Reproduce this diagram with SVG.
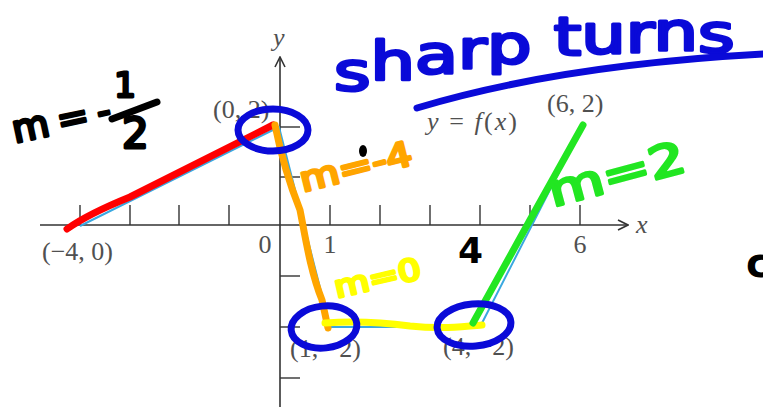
<svg xmlns="http://www.w3.org/2000/svg" width="763" height="409" viewBox="0 0 763 409">
<style>
.axis{stroke:#333;stroke-width:1.6;fill:none}
.tick{stroke:#333;stroke-width:1.4}
.lbl{font-family:"Liberation Serif","Times New Roman",serif;font-size:26px;fill:#505050}
.it{font-style:italic}
.fn{stroke:#3aa8e0;stroke-width:2;fill:none;stroke-linejoin:round}
.mk{fill:none;stroke-linecap:round;stroke-linejoin:round;stroke-width:7}
.hw{font-family:"DejaVu Sans","Liberation Sans",sans-serif;stroke-width:3;stroke-linejoin:round;stroke-linecap:round}
</style>
<defs>
<marker id="ah" viewBox="0 0 12 12" refX="11" refY="6" markerWidth="12" markerHeight="12" markerUnits="userSpaceOnUse" orient="auto">
<path d="M1,1 L11,6 L1,11" fill="none" stroke="#333" stroke-width="1.6"/>
</marker>
</defs>
<rect width="763" height="409" fill="#fff"/>

<g id="axes">
<line class="axis" x1="40" y1="225" x2="628" y2="225" marker-end="url(#ah)"/>
<line class="axis" x1="280" y1="407" x2="280" y2="57" marker-end="url(#ah)"/>
<g class="tick">
<line x1="80" y1="205" x2="80" y2="225"/><line x1="130" y1="205" x2="130" y2="225"/>
<line x1="179" y1="205" x2="179" y2="225"/><line x1="229" y1="205" x2="229" y2="225"/>
<line x1="330" y1="205" x2="330" y2="225"/><line x1="380" y1="205" x2="380" y2="225"/>
<line x1="430" y1="205" x2="430" y2="225"/><line x1="480" y1="205" x2="480" y2="225"/>
<line x1="530" y1="205" x2="530" y2="225"/><line x1="580" y1="205" x2="580" y2="225"/>
<line x1="280" y1="127" x2="300" y2="127"/><line x1="280" y1="177" x2="300" y2="177"/>
<line x1="280" y1="276" x2="300" y2="276"/><line x1="280" y1="327" x2="300" y2="327"/>
<line x1="280" y1="378" x2="300" y2="378"/>
</g>
<text class="lbl it" x="273" y="46">y</text>
<text class="lbl it" x="636" y="233">x</text>
<text class="lbl" x="265" y="253" text-anchor="middle">0</text>
<text class="lbl" x="330" y="253" text-anchor="middle">1</text>
<text class="lbl" x="580" y="253" text-anchor="middle">6</text>
</g>

<g id="function">
<polyline class="fn" points="80,226 279,127 330,327 480,327 583,125"/>
<text class="lbl" x="42" y="260">(−4, 0)</text>
<text class="lbl" x="213" y="118">(0, 2)</text>
<text class="lbl" x="547" y="112">(6, 2)</text>
<text class="lbl" x="290" y="357">(1, −2)</text>
<text class="lbl" x="443" y="355">(4, −2)</text>
<text class="lbl" x="427" y="130" textLength="90"><tspan class="it">y</tspan> = <tspan class="it">f</tspan>(<tspan class="it">x</tspan>)</text>
</g>

<g id="segments">
<path class="mk" stroke="#ff0000" d="M67,229 Q88,214 130,197 L273,125"/>
<path class="mk" stroke="#ffa500" stroke-width="6" d="M275,125 C280,150 290,185 300,210 C305,235 310,270 322,300 L328,328"/>
<path class="mk" stroke="#ffff00" stroke-width="6" d="M325,323 C350,321 380,322 410,326 C440,329 460,327 482,325"/>
<path class="mk" stroke="#22e622" stroke-width="6" d="M473,323 L530,220 L583,125"/>
</g>

<g id="corners">
<ellipse class="mk" stroke="#0a0ad8" stroke-width="6" cx="273" cy="130" rx="35" ry="21"/>
<ellipse class="mk" stroke="#0a0ad8" stroke-width="6" cx="324" cy="327" rx="33" ry="21" transform="rotate(-6 324 327)"/>
<ellipse class="mk" stroke="#0a0ad8" stroke-width="6" cx="474" cy="325" rx="37" ry="21" transform="rotate(-5 474 325)"/>
</g>

<g id="title">
<text class="hw" font-size="54" fill="#0a0ad8" stroke="#0a0ad8" stroke-width="2" transform="translate(334 90) scale(1.3 1)" dy="0 -10 -7 -5 -5 0 -8 -2 -1 -2 2">sharp turns</text>
<path class="mk" stroke="#0a0ad8" stroke-width="6" d="M417,108 Q560,65 765,54"/>
</g>

<g id="slopes">
<text class="hw" x="15" y="143" font-size="38" fill="#000" stroke="#000" textLength="100" transform="rotate(-12 15 143)">m=-</text>
<text class="hw" x="125" y="97" font-size="34" fill="#000" stroke="#000" text-anchor="middle">1</text>
<line class="mk" stroke="#000" stroke-width="6" x1="112" y1="119" x2="157" y2="102"/>
<text class="hw" x="122" y="148" font-size="42" fill="#000" stroke="#000" textLength="50">2</text>
<ellipse cx="363" cy="151" rx="4" ry="6" fill="#000"/>
<text class="hw" fill="#ffa500" stroke="#ffa500" font-size="34" transform="translate(303 192) rotate(-14) scale(1.2 1)">m=-4</text>
<text class="hw" fill="#ffff00" stroke="#ffff00" font-size="30" transform="translate(337 298) rotate(-13) scale(1.2 1)">m=0</text>
<text class="hw" fill="#22e622" stroke="#22e622" font-size="44" transform="translate(553 207) rotate(-15) scale(1.3 1)">m=2</text>
<text class="hw" x="458" y="263" font-size="36" font-weight="bold" fill="#000">4</text>
<text class="hw" x="746" y="277" font-size="40" font-weight="bold" fill="#000">c</text>
</g>
</svg>
